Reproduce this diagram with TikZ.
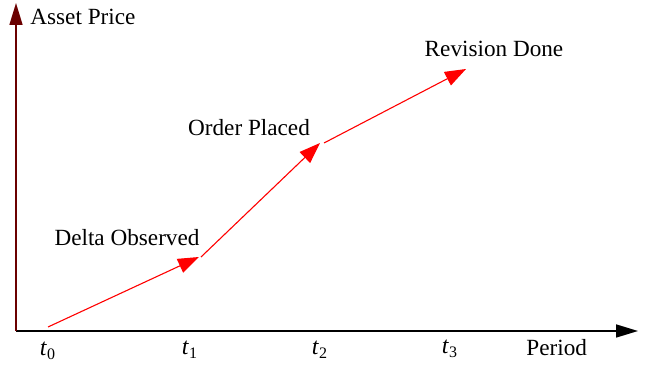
\documentclass[tikz,border=0pt]{standalone}
\usepackage{fontspec}
\setmainfont{Liberation Serif}
\usepackage{tikz}
\usetikzlibrary{arrows.meta, positioning}
\definecolor{axisred}{rgb}{0.42, 0.00, 0.00}

\begin{document}
\begin{tikzpicture}[
  x=0.5pt, y=-0.5pt,
  every node/.style={font=\fontsize{11.6}{13}\selectfont, inner sep=1pt},
  yaxis/.style={-{Triangle[length=11pt, width=6.5pt]}, line width=0.8pt, color=axisred},
  xaxis/.style={-{Triangle[length=11pt, width=6.5pt]}, line width=0.8pt, color=black},
  move/.style={-{Triangle[length=10.5pt, width=7.5pt]}, line width=0.55pt, color=red},
  tick/.style={font=\fontsize{12}{13}\selectfont}
]
  \useasboundingbox (0,0) rectangle (652,367);

  % Axes
  \coordinate (origin) at (16,331);
  \coordinate (ytop)   at (16,3);
  \coordinate (xend)   at (638,331);
  \draw[xaxis] (origin) -- (xend);
  \draw[yaxis] (origin) -- (ytop);

  % Price path
  \coordinate (p0) at (48,327);
  \coordinate (p1) at (199,257);
  \coordinate (p2) at (320,143);
  \coordinate (p3) at (466,69);
  \draw[move] (p0) -- (p1);
  \draw[move] ([xshift=1]p1) -- (p2);
  \draw[move] ([xshift=2]p2) -- (p3);

  % Labels
  \node[anchor=west] (price) at (28,17) {Asset Price};
  \node[anchor=west] (period) at (524,348) {Period};
  \node (lbl1) at (127,238) {Delta Observed};
  \node (lbl2) at (249,128) {Order Placed};
  \node (lbl3) at (494,49)  {Revision Done};

  % Periods
  \node[tick] (t0) at (48,351)  {\textit{t}\textsubscript{0}};
  \node[tick] (t1) at (190,350) {\textit{t}\textsubscript{1}};
  \node[tick] (t2) at (320,350) {\textit{t}\textsubscript{2}};
  \node[tick] (t3) at (450,349) {\textit{t}\textsubscript{3}};
\end{tikzpicture}
\end{document}
